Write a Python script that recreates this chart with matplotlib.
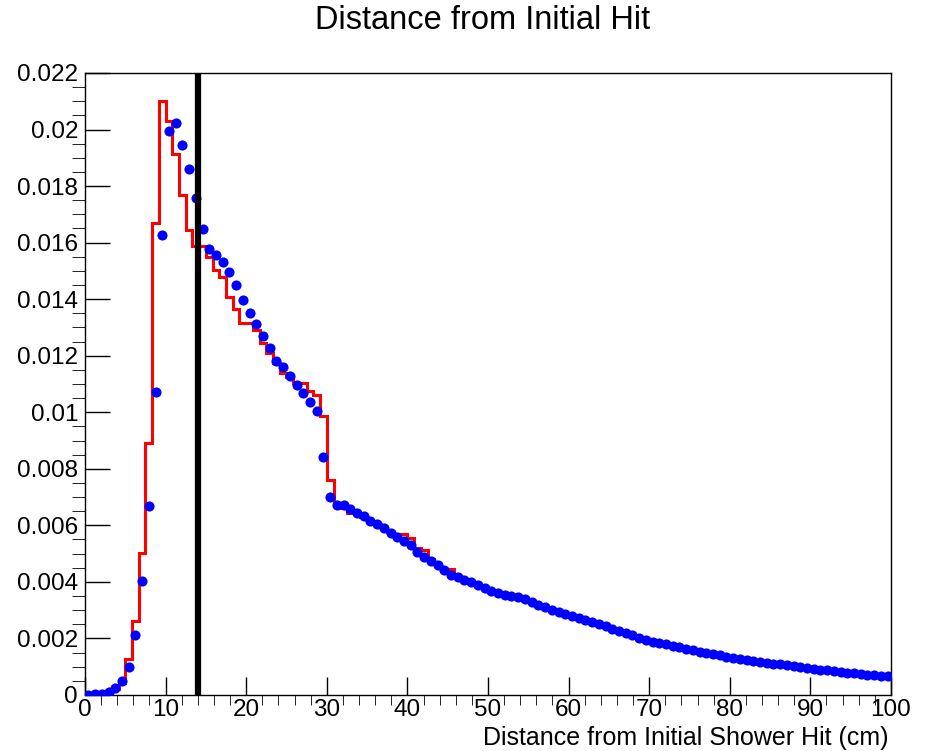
import matplotlib
matplotlib.use("Agg")
import matplotlib.pyplot as plt
import numpy as np
from matplotlib.ticker import MultipleLocator, FuncFormatter

plt.rcParams["font.family"] = ["Liberation Sans", "DejaVu Sans"]

# 120 bins over 0..100 cm
n_bins = 120
x_min, x_max = 0.0, 100.0
cut_x = 14.0

# red histogram (bin contents)
red = [
    0.0, 0.00001, 0.00003, 0.0001, 0.00022, 0.00042, 0.00126, 0.00263, 0.00503, 0.00892,
    0.01668, 0.02102, 0.02031, 0.01914, 0.01769, 0.01645, 0.01589, 0.01588, 0.01548, 0.01503,
    0.01477, 0.01407, 0.01364, 0.01317, 0.01317, 0.01291, 0.01244, 0.01211, 0.01173, 0.0114,
    0.01126, 0.01105, 0.01105, 0.01075, 0.0106, 0.00988, 0.0076, 0.00678, 0.00662, 0.00645,
    0.0064, 0.0063, 0.00612, 0.00603, 0.00588, 0.00575, 0.0057, 0.0057, 0.00554, 0.0052,
    0.00513, 0.0048, 0.00465, 0.00447, 0.00445, 0.0042, 0.00405, 0.00399, 0.00388, 0.00377,
    0.00368, 0.00361, 0.00353, 0.00348, 0.00346, 0.00339, 0.00329, 0.00319, 0.00309, 0.003,
    0.00294, 0.00284, 0.00279, 0.00271, 0.00264, 0.00256, 0.00249, 0.00242, 0.00232, 0.00224,
    0.00218, 0.00211, 0.00202, 0.00195, 0.00188, 0.00183, 0.00178, 0.00173, 0.00168, 0.00163,
    0.00157, 0.00152, 0.00148, 0.00144, 0.00139, 0.00134, 0.00131, 0.00127, 0.00123, 0.00119,
    0.00116, 0.00113, 0.0011, 0.00107, 0.00104, 0.001, 0.00097, 0.00094, 0.00092, 0.00089,
    0.00086, 0.00083, 0.0008, 0.00078, 0.00075, 0.00072, 0.0007, 0.00068, 0.00067, 0.00065,
]

# blue points (bin centres)
blue = [
    0.00001, 0.00002, 0.00004, 0.00012, 0.00024, 0.0005, 0.001, 0.00212, 0.00403, 0.00668,
    0.01073, 0.01627, 0.01995, 0.02022, 0.01945, 0.0186, 0.01757, 0.01648, 0.01578, 0.01556,
    0.01533, 0.01497, 0.0145, 0.01397, 0.0135, 0.01312, 0.01271, 0.01226, 0.01182, 0.01159,
    0.01129, 0.01097, 0.01069, 0.01037, 0.01004, 0.0084, 0.00701, 0.00672, 0.00673, 0.00657,
    0.00645, 0.00633, 0.00614, 0.00606, 0.0059, 0.00572, 0.0056, 0.00544, 0.0053, 0.00507,
    0.00488, 0.00474, 0.0046, 0.00443, 0.00425, 0.00417, 0.00407, 0.004, 0.00389, 0.00378,
    0.00369, 0.00362, 0.00354, 0.00349, 0.00347, 0.0034, 0.0033, 0.0032, 0.0031, 0.00301,
    0.00295, 0.00285, 0.0028, 0.00272, 0.00265, 0.00257, 0.0025, 0.00243, 0.00233, 0.00225,
    0.00219, 0.00212, 0.00203, 0.00196, 0.00189, 0.00184, 0.00179, 0.00174, 0.00169, 0.00164,
    0.00158, 0.00153, 0.00149, 0.00145, 0.0014, 0.00135, 0.00132, 0.00128, 0.00124, 0.0012,
    0.00117, 0.00114, 0.00111, 0.00108, 0.00105, 0.00101, 0.00098, 0.00095, 0.00093, 0.0009,
    0.00087, 0.00084, 0.00081, 0.00079, 0.00076, 0.00073, 0.00071, 0.00069, 0.00068, 0.00066,
]

edges = np.linspace(x_min, x_max, n_bins + 1)
centers = 0.5 * (edges[:-1] + edges[1:])

fig = plt.figure(figsize=(9.28, 7.51), dpi=100)
ax = fig.add_axes([0.0916, 0.0746, 0.8685, 0.8282])

ax.stairs(red, edges, color=(1, 0, 0), lw=2.2, baseline=None, zorder=2)
ax.plot(centers, blue, "o", color=(0, 0, 1), ms=7.3, mec="none", zorder=3)
ax.axvline(cut_x, color="black", lw=4.5, zorder=4)

ax.set_xlim(x_min, x_max)
ax.set_ylim(0, 0.022)

ax.xaxis.set_major_locator(MultipleLocator(10))
ax.xaxis.set_minor_locator(MultipleLocator(2))
ax.yaxis.set_major_locator(MultipleLocator(0.002))
ax.yaxis.set_minor_locator(MultipleLocator(0.0005))
ax.yaxis.set_major_formatter(FuncFormatter(lambda v, p: "%g" % round(v, 6)))

ax.tick_params(direction="in", labelsize=17.5, width=1)
ax.tick_params(axis="y", which="major", length=18, pad=5)
ax.tick_params(axis="y", which="minor", length=9.5)
ax.tick_params(axis="x", which="major", length=13, pad=3)
ax.tick_params(axis="x", which="minor", length=7)
for s in ax.spines.values():
    s.set_linewidth(1)

fig.text(0.5205, 0.973, "Distance from Initial Hit", ha="center", va="center", fontsize=23.5)
fig.text(0.957, 0.0173, "Distance from Initial Shower Hit (cm)", ha="right", va="center",
         fontsize=18)

fig.savefig("out.png", dpi=100)
